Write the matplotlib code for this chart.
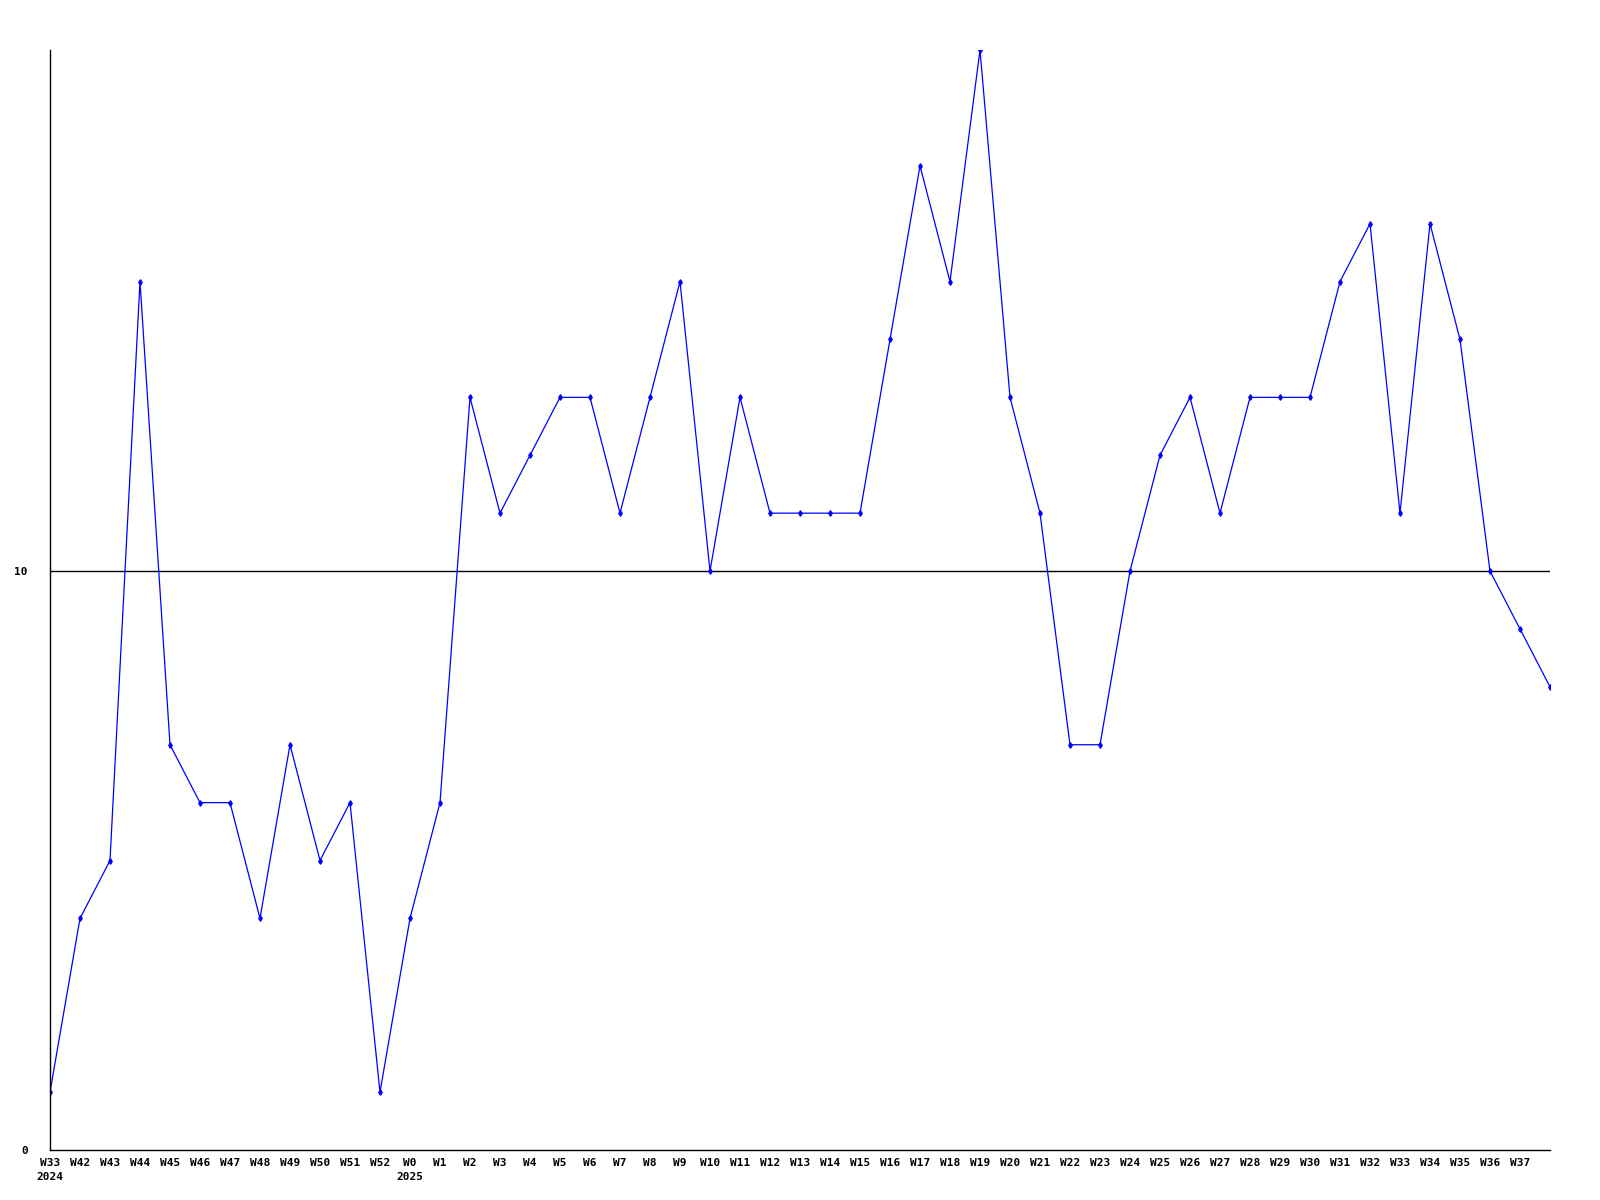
import matplotlib
matplotlib.use("Agg")
import matplotlib.pyplot as plt

weeks = ["W33", "W42", "W43", "W44", "W45", "W46", "W47", "W48", "W49", "W50",
         "W51", "W52", "W0", "W1", "W2", "W3", "W4", "W5", "W6", "W7",
         "W8", "W9", "W10", "W11", "W12", "W13", "W14", "W15", "W16", "W17",
         "W18", "W19", "W20", "W21", "W22", "W23", "W24", "W25", "W26", "W27",
         "W28", "W29", "W30", "W31", "W32", "W33", "W34", "W35", "W36", "W37", ""]
years = {0: "2024", 12: "2025"}
values = [1, 4, 5, 15, 7, 6, 6, 4, 7, 5,
          6, 1, 4, 6, 13, 11, 12, 13, 13, 11,
          13, 15, 10, 13, 11, 11, 11, 11, 14, 17,
          15, 19, 13, 11, 7, 7, 10, 12, 13, 11,
          13, 13, 13, 15, 16, 11, 16, 14, 10, 9, 8]

plt.rcParams['font.family'] = ['DejaVu Sans Mono']
fig = plt.figure(figsize=(16, 12), dpi=100)
ax = fig.add_axes([50 / 1600, 50 / 1200, 1500 / 1600, 1100 / 1200])

x = list(range(len(values)))
ax.plot(x, values, color='#0000ff', lw=0.9, marker='d', ms=2.8, clip_on=True)
ax.axhline(10, color='black', lw=1, zorder=1)

ax.set_xlim(0, len(values) - 1)
ax.set_ylim(0, 19)
for s in ['top', 'right']:
    ax.spines[s].set_visible(False)
for s in ['left', 'bottom']:
    ax.spines[s].set_linewidth(1)

labels = [w + ("\n" + years[i] if i in years else "") for i, w in enumerate(weeks)]
ax.set_xticks(x)
ax.set_xticklabels(labels, fontsize=8, fontweight='bold', va='top', linespacing=1.4)
ax.set_yticks([0, 10])
ax.set_yticklabels(["0", "10"], fontsize=8, fontweight='bold')
for lbl in ax.get_xticklabels():
    lbl.set_horizontalalignment('center')
ax.tick_params(axis='x', length=0, pad=6)
ax.tick_params(axis='y', length=0, pad=16)

fig.savefig("out.png", dpi=100)
